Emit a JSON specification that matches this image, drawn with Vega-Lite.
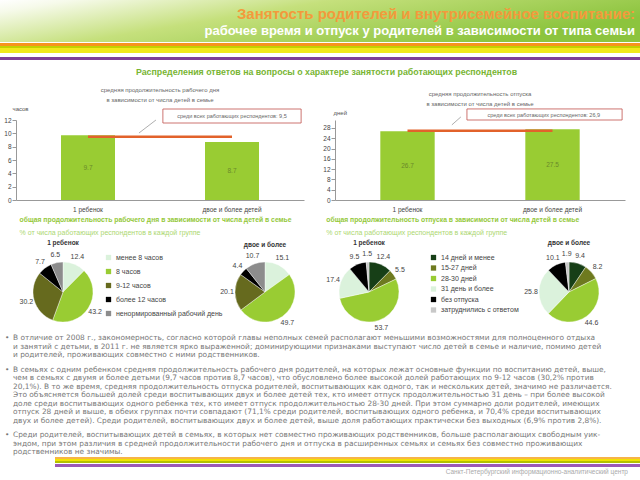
{
  "$schema": "https://vega.github.io/schema/vega-lite/v6.json",
  "padding": 0,
  "background": "#ffffff",
  "spacing": 3,
  "config": {
    "view": {"stroke": null},
    "font": "Liberation Sans",
    "title": {"font": "Liberation Sans", "subtitleFont": "Liberation Sans"},
    "axis": {"labelFont": "Liberation Sans", "titleFont": "Liberation Sans"},
    "legend": {"labelFont": "Liberation Sans"}
  },
  "datasets": {
    "workBars": [{"g": "1 ребенок", "v": 9.7}, {"g": "двое и более детей", "v": 8.7}],
    "vacBars": [{"g": "1 ребенок", "v": 26.7}, {"g": "двое и более детей", "v": 27.5}],
    "workAvg": [{"avg": 9.5, "label": "среди всех работающих респондентов: 9,5"}],
    "vacAvg": [{"avg": 26.9, "label": "среди всех работающих респондентов: 26,9"}],
    "workPie1": [{"k": 1, "c": "менее 8 часов", "v": 12.4}, {"k": 2, "c": "8 часов", "v": 43.2}, {"k": 3, "c": "9-12 часов", "v": 30.2}, {"k": 4, "c": "более 12 часов", "v": 7.7}, {"k": 5, "c": "ненормированный рабочий день", "v": 6.5}],
    "workPie2": [{"k": 1, "c": "менее 8 часов", "v": 15.1}, {"k": 2, "c": "8 часов", "v": 49.7}, {"k": 3, "c": "9-12 часов", "v": 20.1}, {"k": 4, "c": "более 12 часов", "v": 4.4}, {"k": 5, "c": "ненормированный рабочий день", "v": 10.7}],
    "vacPie1": [{"k": 1, "c": "14 дней и менее", "v": 12.4}, {"k": 2, "c": "15-27 дней", "v": 5.5}, {"k": 3, "c": "28-30 дней", "v": 53.7}, {"k": 4, "c": "31 день и более", "v": 17.4}, {"k": 5, "c": "без отпуска", "v": 9.5}, {"k": 6, "c": "затруднились с ответом", "v": 1.5}],
    "vacPie2": [{"k": 1, "c": "14 дней и менее", "v": 9.4}, {"k": 2, "c": "15-27 дней", "v": 8.2}, {"k": 3, "c": "28-30 дней", "v": 44.6}, {"k": 4, "c": "31 день и более", "v": 25.8}, {"k": 5, "c": "без отпуска", "v": 10.1}, {"k": 6, "c": "затруднились с ответом", "v": 1.9}],
    "bullet1": [
      {"n": 1, "b": "•", "t": "В отличие от 2008 г., закономерность, согласно которой главы неполных семей располагают меньшими возможностями для полноценного отдыха"},
      {"n": 2, "b": "", "t": "и занятий с детьми, в 2011 г. не является ярко выраженной; доминирующими признаками выступают число детей в семье и наличие, помимо детей"},
      {"n": 3, "b": "", "t": "и родителей, проживающих совместно с ними родственников."}
    ],
    "bullet2": [
      {"n": 1, "b": "•", "t": "В семьях с одним ребенком средняя продолжительность рабочего дня родителей, на которых лежат основные функции по воспитанию детей, выше,"},
      {"n": 2, "b": "", "t": "чем в семьях с двумя и более детьми (9,7 часов против 8,7 часов), что обусловлено более высокой долей работающих по 9-12 часов (30,2% против"},
      {"n": 3, "b": "", "t": "20,1%). В то же время, средняя продолжительность отпуска родителей, воспитывающих как одного, так и нескольких детей, значимо не различается."},
      {"n": 4, "b": "", "t": "Это объясняется большей долей среди воспитывающих двух и более детей тех, кто имеет отпуск продолжительностью 31 день – при более высокой"},
      {"n": 5, "b": "", "t": "доле среди воспитывающих одного ребенка тех, кто имеет отпуск продолжительностью 28-30 дней. При этом суммарно доли родителей, имеющих"},
      {"n": 6, "b": "", "t": "отпуск 28 дней и выше, в обеих группах почти совпадают (71,1% среди родителей, воспитывающих одного ребенка, и 70,4% среди воспитывающих"},
      {"n": 7, "b": "", "t": "двух и более детей). Среди родителей, воспитывающих двух и более детей, выше доля работающих практически без выходных (6,9% против 2,8%)."}
    ],
    "bullet3": [
      {"n": 1, "b": "•", "t": "Среди родителей, воспитывающих детей в семьях, в которых нет совместно проживающих родственников, больше располагающих свободным уик-"},
      {"n": 2, "b": "", "t": "эндом, при этом различия в средней продолжительности рабочего дня и отпуска в расширенных семьях и семьях без совместно проживающих"},
      {"n": 3, "b": "", "t": "родственников не значимы."}
    ]
  },
  "vconcat": [
    {
      "spacing": 0,
      "vconcat": [
        {
          "width": 640, "height": 42,
          "data": {"values": []},
          "mark": "point",
          "view": {"fill": {"gradient": "linear", "x1": 0, "y1": 0, "x2": 1, "y2": 0.4, "stops": [{"offset": 0, "color": "#ffffff"}, {"offset": 0.1, "color": "#f6faea"}, {"offset": 0.45, "color": "#c5e07c"}, {"offset": 1, "color": "#8cc43e"}]}},
          "title": {"text": "Занятость родителей и внутрисемейное воспитание:", "subtitle": "рабочее время и отпуск у родителей в зависимости от типа семьи", "anchor": "end", "orient": "top", "offset": -38, "dx": -5, "fontSize": 15, "fontWeight": "bold", "color": "#f39a3c", "subtitleFontSize": 13, "subtitleFontWeight": "bold", "subtitleColor": "#ffffff", "subtitlePadding": 3}
        },
        {
          "width": 640, "height": 23,
          "data": {"values": []},
          "mark": "point",
          "view": {"fill": {"gradient": "linear", "x1": 0, "y1": 0, "x2": 0, "y2": 1, "stops": [
            {"offset": 0, "color": "#ffffff"}, {"offset": 0.043, "color": "#ffffff"},
            {"offset": 0.043, "color": "#f7941d"}, {"offset": 0.174, "color": "#f7941d"},
            {"offset": 0.174, "color": "#c3d100"}, {"offset": 0.261, "color": "#c3d100"},
            {"offset": 0.261, "color": "#f0e81c"}, {"offset": 0.5, "color": "#f0e81c"},
            {"offset": 0.5, "color": "#ffffff"}, {"offset": 0.652, "color": "#ffffff"},
            {"offset": 0.652, "color": "#7f3f98"}, {"offset": 0.761, "color": "#7f3f98"},
            {"offset": 0.761, "color": "#ffffff"}, {"offset": 1, "color": "#ffffff"}]}}
        }
      ]
    },
    {
      "title": {"text": "Распределения ответов на вопросы о характере занятости работающих респондентов", "fontSize": 8.8, "fontWeight": "bold", "color": "#78b533", "anchor": "middle", "dx": 14, "offset": 10},
      "spacing": 0,
      "hconcat": [
        {"width": 3, "height": 1, "data": {"values": []}, "mark": "point"},
        {
          "spacing": 18,
          "hconcat": [
            {
              "width": 288, "height": 80,
              "title": {"text": ["средняя продолжительность рабочего дня", "в зависимости от числа детей в семье"], "fontSize": 6, "fontWeight": "normal", "color": "#666666", "lineHeight": 10, "offset": 2},
              "resolve": {"scale": {"x": "independent", "y": "independent"}},
              "layer": [
                {
                  "data": {"name": "workBars"},
                  "mark": {"type": "bar", "color": "#99cc33"},
                  "encoding": {
                    "x": {"field": "g", "type": "nominal", "sort": null, "scale": {"paddingInner": 0.625, "paddingOuter": 0.3125}, "axis": {"title": null, "labelAngle": 0, "ticks": false, "labelPadding": 6, "labelFontSize": 6.5, "labelColor": "#444444", "domainColor": "#999999"}},
                    "y": {"field": "v", "type": "quantitative", "scale": {"domain": [0, 12], "nice": false}, "axis": {"values": [0, 2, 4, 6, 8, 10, 12], "title": "часов", "titleAngle": 0, "titleAlign": "left", "titleBaseline": "bottom", "titleX": -4, "titleY": -9, "titleFontSize": 6, "titleFontWeight": "normal", "titleColor": "#555555", "grid": false, "tickSize": 4, "labelPadding": 1, "labelFontSize": 6.5, "labelColor": "#444444", "domainColor": "#999999", "tickColor": "#999999"}}
                  }
                },
                {
                  "data": {"name": "workBars"},
                  "mark": {"type": "text", "fontSize": 6.5, "color": "#6a8a2a"},
                  "encoding": {
                    "x": {"field": "g", "type": "nominal", "sort": null, "scale": {"paddingInner": 0.625, "paddingOuter": 0.3125}, "axis": null},
                    "y": {"field": "v", "type": "quantitative", "scale": {"domain": [0, 24], "nice": false}, "axis": null},
                    "text": {"field": "v", "type": "quantitative", "format": ".1f"}
                  }
                },
                {
                  "data": {"name": "workAvg"},
                  "mark": {"type": "rule", "color": "#e2622b", "strokeWidth": 2.5},
                  "encoding": {
                    "x": {"datum": "1 ребенок", "type": "nominal", "scale": {"type": "point", "padding": 0.5, "domain": ["1 ребенок", "двое и более детей"]}, "axis": null},
                    "x2": {"datum": "двое и более детей"},
                    "y": {"field": "avg", "type": "quantitative", "scale": {"domain": [0, 12], "nice": false}, "axis": null}
                  }
                },
                {
                  "data": {"name": "workAvg"},
                  "mark": {"type": "rule", "color": "#777777", "strokeWidth": 0.6},
                  "encoding": {
                    "x": {"datum": 0.427, "type": "quantitative", "scale": {"domain": [0, 1], "nice": false}, "axis": null},
                    "x2": {"datum": 0.486},
                    "y": {"datum": 10.05, "type": "quantitative", "scale": {"domain": [0, 12], "nice": false}, "axis": null},
                    "y2": {"datum": 12.0}
                  }
                },
                {
                  "data": {"name": "workAvg"},
                  "mark": {"type": "rect", "fill": "#ffffff", "stroke": "#c0504d", "strokeWidth": 0.8},
                  "encoding": {
                    "x": {"datum": 0.51, "type": "quantitative", "scale": {"domain": [0, 1], "nice": false}, "axis": null},
                    "x2": {"datum": 0.99},
                    "y": {"datum": 11.55, "type": "quantitative", "scale": {"domain": [0, 12], "nice": false}, "axis": null},
                    "y2": {"datum": 13.65}
                  }
                },
                {
                  "data": {"name": "workAvg"},
                  "mark": {"type": "text", "fontSize": 5.5, "color": "#666666"},
                  "encoding": {
                    "x": {"datum": 0.75, "type": "quantitative", "scale": {"domain": [0, 1], "nice": false}, "axis": null},
                    "y": {"datum": 12.6, "type": "quantitative", "scale": {"domain": [0, 12], "nice": false}, "axis": null},
                    "text": {"field": "label"}
                  }
                }
              ]
            },
            {
              "width": 290, "height": 80,
              "title": {"text": ["средняя продолжительность отпуска", "в зависимости от числа детей в семье"], "fontSize": 6, "fontWeight": "normal", "color": "#666666", "lineHeight": 10, "offset": 2},
              "resolve": {"scale": {"x": "independent", "y": "independent"}},
              "layer": [
                {
                  "data": {"name": "vacBars"},
                  "mark": {"type": "bar", "color": "#99cc33"},
                  "encoding": {
                    "x": {"field": "g", "type": "nominal", "sort": null, "scale": {"paddingInner": 0.625, "paddingOuter": 0.3125}, "axis": {"title": null, "labelAngle": 0, "ticks": false, "labelPadding": 6, "labelFontSize": 6.5, "labelColor": "#444444", "domainColor": "#999999"}},
                    "y": {"field": "v", "type": "quantitative", "scale": {"domain": [0, 31.1], "nice": false}, "axis": {"values": [0, 4, 8, 12, 16, 20, 24, 28], "title": "дней", "titleAngle": 0, "titleAlign": "left", "titleBaseline": "bottom", "titleX": -2, "titleY": -5, "titleFontSize": 6, "titleFontWeight": "normal", "titleColor": "#555555", "grid": false, "tickSize": 4, "labelPadding": 1, "labelFontSize": 6.5, "labelColor": "#444444", "domainColor": "#999999", "tickColor": "#999999"}}
                  }
                },
                {
                  "data": {"name": "vacBars"},
                  "mark": {"type": "text", "fontSize": 6.5, "color": "#6a8a2a"},
                  "encoding": {
                    "x": {"field": "g", "type": "nominal", "sort": null, "scale": {"paddingInner": 0.625, "paddingOuter": 0.3125}, "axis": null},
                    "y": {"field": "v", "type": "quantitative", "scale": {"domain": [0, 62.2], "nice": false}, "axis": null},
                    "text": {"field": "v", "type": "quantitative", "format": ".1f"}
                  }
                },
                {
                  "data": {"name": "vacAvg"},
                  "mark": {"type": "rule", "color": "#e2622b", "strokeWidth": 2.5},
                  "encoding": {
                    "x": {"datum": "1 ребенок", "type": "nominal", "scale": {"type": "point", "padding": 0.5, "domain": ["1 ребенок", "двое и более детей"]}, "axis": null},
                    "x2": {"datum": "двое и более детей"},
                    "y": {"field": "avg", "type": "quantitative", "scale": {"domain": [0, 31.1], "nice": false}, "axis": null}
                  }
                },
                {
                  "data": {"name": "vacAvg"},
                  "mark": {"type": "rule", "color": "#777777", "strokeWidth": 0.6},
                  "encoding": {
                    "x": {"datum": 0.403, "type": "quantitative", "scale": {"domain": [0, 1], "nice": false}, "axis": null},
                    "x2": {"datum": 0.434},
                    "y": {"datum": 29.2, "type": "quantitative", "scale": {"domain": [0, 31.1], "nice": false}, "axis": null},
                    "y2": {"datum": 32.3}
                  }
                },
                {
                  "data": {"name": "vacAvg"},
                  "mark": {"type": "rect", "fill": "#ffffff", "stroke": "#c0504d", "strokeWidth": 0.8},
                  "encoding": {
                    "x": {"datum": 0.455, "type": "quantitative", "scale": {"domain": [0, 1], "nice": false}, "axis": null},
                    "x2": {"datum": 0.99},
                    "y": {"datum": 31.1, "type": "quantitative", "scale": {"domain": [0, 31.1], "nice": false}, "axis": null},
                    "y2": {"datum": 35.4}
                  }
                },
                {
                  "data": {"name": "vacAvg"},
                  "mark": {"type": "text", "fontSize": 5.5, "color": "#666666"},
                  "encoding": {
                    "x": {"datum": 0.72, "type": "quantitative", "scale": {"domain": [0, 1], "nice": false}, "axis": null},
                    "y": {"datum": 33.2, "type": "quantitative", "scale": {"domain": [0, 31.1], "nice": false}, "axis": null},
                    "text": {"field": "label"}
                  }
                }
              ]
            }
          ]
        }
      ]
    },
    {
      "spacing": 0,
      "hconcat": [
        {"width": 19, "height": 1, "data": {"values": []}, "mark": "point"},
        {
          "title": {"text": "общая продолжительность рабочего дня в зависимости от числа детей в семье", "subtitle": "% от числа работающих респондентов в каждой группе", "fontSize": 6.8, "fontWeight": "bold", "color": "#94c83a", "subtitleFontSize": 7, "subtitleColor": "#acd770", "subtitlePadding": 5, "offset": 4},
          "spacing": 3,
          "resolve": {"scale": {"color": "independent"}},
          "hconcat": [
            {
              "width": 60, "height": 76,
              "title": {"text": "1 ребенок", "fontSize": 6.5, "fontWeight": "bold", "color": "#333333", "offset": 4},
              "data": {"name": "workPie1"},
              "encoding": {
                "theta": {"field": "v", "type": "quantitative", "stack": true},
                "order": {"field": "k", "type": "quantitative"}
              },
              "layer": [
                {"mark": {"type": "arc", "outerRadius": 30, "stroke": "#ffffff", "strokeWidth": 0.4},
                 "encoding": {"color": {"field": "c", "type": "nominal", "scale": {"domain": ["менее 8 часов", "8 часов", "9-12 часов", "более 12 часов", "ненормированный рабочий день"], "range": ["#dbf2dc", "#99cc33", "#666a1e", "#000000", "#8c8c8c"]}, "legend": null}}},
                {"mark": {"type": "text", "radius": 38, "fontSize": 7, "color": "#444444"},
                 "encoding": {"text": {"field": "v", "type": "quantitative", "format": ".1f"}}}
              ]
            },
            {
              "width": 60, "height": 76,
              "title": {"text": "двое и более", "fontSize": 6.5, "fontWeight": "bold", "color": "#333333", "offset": 4},
              "data": {"name": "workPie2"},
              "encoding": {
                "theta": {"field": "v", "type": "quantitative", "stack": true},
                "order": {"field": "k", "type": "quantitative"}
              },
              "layer": [
                {"mark": {"type": "arc", "outerRadius": 30, "stroke": "#ffffff", "strokeWidth": 0.4},
                 "encoding": {"color": {"field": "c", "type": "nominal", "scale": {"domain": ["менее 8 часов", "8 часов", "9-12 часов", "более 12 часов", "ненормированный рабочий день"], "range": ["#dbf2dc", "#99cc33", "#666a1e", "#000000", "#8c8c8c"]}, "legend": {"orient": "left", "title": null, "symbolType": "square", "symbolSize": 28, "symbolStrokeWidth": 0, "labelFontSize": 7, "labelColor": "#444444", "rowPadding": 6, "offset": 12, "padding": 0}}}},
                {"mark": {"type": "text", "radius": 38, "fontSize": 7, "color": "#444444"},
                 "encoding": {"text": {"field": "v", "type": "quantitative", "format": ".1f"}}}
              ]
            }
          ]
        },
        {"width": 30, "height": 1, "data": {"values": []}, "mark": "point"},
        {
          "title": {"text": "общая продолжительность отпуска в зависимости от числа детей в семье", "subtitle": "% от числа работающих респондентов в каждой группе", "fontSize": 6.8, "fontWeight": "bold", "color": "#94c83a", "subtitleFontSize": 7, "subtitleColor": "#acd770", "subtitlePadding": 5, "offset": 4},
          "spacing": 25,
          "resolve": {"scale": {"color": "independent"}},
          "hconcat": [
            {
              "width": 60, "height": 76,
              "title": {"text": "1 ребенок", "fontSize": 6.5, "fontWeight": "bold", "color": "#333333", "offset": 4},
              "data": {"name": "vacPie1"},
              "encoding": {
                "theta": {"field": "v", "type": "quantitative", "stack": true},
                "order": {"field": "k", "type": "quantitative"}
              },
              "layer": [
                {"mark": {"type": "arc", "outerRadius": 30, "stroke": "#ffffff", "strokeWidth": 0.4},
                 "encoding": {"color": {"field": "c", "type": "nominal", "scale": {"domain": ["14 дней и менее", "15-27 дней", "28-30 дней", "31 день и более", "без отпуска", "затруднились с ответом"], "range": ["#173f17", "#6e7a1f", "#99cc33", "#dbf2dc", "#000000", "#c8c8c8"]}, "legend": null}}},
                {"mark": {"type": "text", "radius": 38, "fontSize": 7, "color": "#444444"},
                 "encoding": {"text": {"field": "v", "type": "quantitative", "format": ".1f"}}}
              ]
            },
            {
              "width": 60, "height": 76,
              "title": {"text": "двое и более", "fontSize": 6.5, "fontWeight": "bold", "color": "#333333", "offset": 4},
              "data": {"name": "vacPie2"},
              "encoding": {
                "theta": {"field": "v", "type": "quantitative", "stack": true},
                "order": {"field": "k", "type": "quantitative"}
              },
              "layer": [
                {"mark": {"type": "arc", "outerRadius": 30, "stroke": "#ffffff", "strokeWidth": 0.4},
                 "encoding": {"color": {"field": "c", "type": "nominal", "scale": {"domain": ["14 дней и менее", "15-27 дней", "28-30 дней", "31 день и более", "без отпуска", "затруднились с ответом"], "range": ["#173f17", "#6e7a1f", "#99cc33", "#dbf2dc", "#000000", "#c8c8c8"]}, "legend": {"orient": "left", "title": null, "symbolType": "square", "symbolSize": 28, "symbolStrokeWidth": 0, "labelFontSize": 7, "labelColor": "#444444", "rowPadding": 2.5, "offset": 20, "padding": 0}}}},
                {"mark": {"type": "text", "radius": 38, "fontSize": 7, "color": "#444444"},
                 "encoding": {"text": {"field": "v", "type": "quantitative", "format": ".1f"}}}
              ]
            }
          ]
        }
      ]
    },
    {
      "spacing": 0,
      "vconcat": [
        {
          "spacing": 0,
          "hconcat": [
            {"width": 5, "height": 1, "data": {"values": []}, "mark": "point"},
            {
              "spacing": 5.5,
              "vconcat": [
                {
                  "width": 615, "height": {"step": 8.5},
                  "data": {"name": "bullet1"},
                  "encoding": {"y": {"field": "n", "type": "ordinal", "axis": null, "scale": {"type": "band", "paddingInner": 0, "paddingOuter": 0, "round": false}}, "x": {"value": 0}},
                  "layer": [
                    {"mark": {"type": "text", "align": "left", "baseline": "middle", "font": "DejaVu Sans", "fontSize": 7.4, "color": "#777777"}, "encoding": {"text": {"field": "t"}}},
                    {"mark": {"type": "text", "align": "left", "baseline": "middle", "dx": -8, "font": "DejaVu Sans", "fontSize": 7.4, "color": "#777777"}, "encoding": {"text": {"field": "b"}}}
                  ]
                },
                {
                  "width": 615, "height": {"step": 8.5},
                  "data": {"name": "bullet2"},
                  "encoding": {"y": {"field": "n", "type": "ordinal", "axis": null, "scale": {"type": "band", "paddingInner": 0, "paddingOuter": 0, "round": false}}, "x": {"value": 0}},
                  "layer": [
                    {"mark": {"type": "text", "align": "left", "baseline": "middle", "font": "DejaVu Sans", "fontSize": 7.4, "color": "#777777"}, "encoding": {"text": {"field": "t"}}},
                    {"mark": {"type": "text", "align": "left", "baseline": "middle", "dx": -8, "font": "DejaVu Sans", "fontSize": 7.4, "color": "#777777"}, "encoding": {"text": {"field": "b"}}}
                  ]
                },
                {
                  "width": 615, "height": {"step": 8.5},
                  "data": {"name": "bullet3"},
                  "encoding": {"y": {"field": "n", "type": "ordinal", "axis": null, "scale": {"type": "band", "paddingInner": 0, "paddingOuter": 0, "round": false}}, "x": {"value": 0}},
                  "layer": [
                    {"mark": {"type": "text", "align": "left", "baseline": "middle", "font": "DejaVu Sans", "fontSize": 7.4, "color": "#777777"}, "encoding": {"text": {"field": "t"}}},
                    {"mark": {"type": "text", "align": "left", "baseline": "middle", "dx": -8, "font": "DejaVu Sans", "fontSize": 7.4, "color": "#777777"}, "encoding": {"text": {"field": "b"}}}
                  ]
                }
              ]
            }
          ]
        },
        {
          "spacing": 0,
          "hconcat": [
            {"width": 55, "height": 1, "data": {"values": []}, "mark": "point"},
            {
              "width": 585, "height": 10,
              "data": {"values": []},
              "mark": "point",
              "view": {"fill": {"gradient": "linear", "x1": 0, "y1": 0, "x2": 0, "y2": 1, "stops": [
                {"offset": 0, "color": "#f7b448"}, {"offset": 0.15, "color": "#f7b448"},
                {"offset": 0.15, "color": "#f0e400"}, {"offset": 0.4, "color": "#f0e400"},
                {"offset": 0.4, "color": "#b3c100"}, {"offset": 0.6, "color": "#b3c100"},
                {"offset": 0.6, "color": "#ffffff"}, {"offset": 0.72, "color": "#ffffff"},
                {"offset": 0.72, "color": "#9b59b6"}, {"offset": 0.95, "color": "#9b59b6"},
                {"offset": 0.95, "color": "#ffffff"}, {"offset": 1, "color": "#ffffff"}]}},
              "title": {"text": "Санкт-Петербургский информационно-аналитический центр", "orient": "bottom", "anchor": "end", "dx": -12, "offset": 2, "fontSize": 6.5, "fontWeight": "normal", "color": "#aaaaaa"}
            }
          ]
        }
      ]
    }
  ]
}
